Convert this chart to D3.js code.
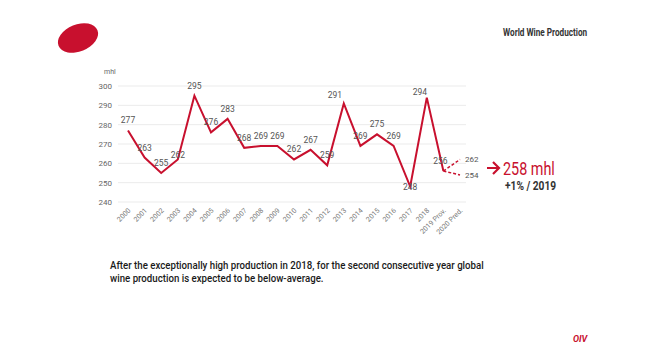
<!DOCTYPE html>
<meta charset="utf-8">
<script src="https://d3js.org/d3.v7.min.js"></script>
<style>
  body { margin: 0; background: #fff; }
  svg text { font-family: "Roboto", "Liberation Sans", sans-serif; }
</style>
<div id="chart"></div>
<script>
// production in mhl, 2000 to 2019 (provisional)
var years = ["2000","2001","2002","2003","2004","2005","2006","2007","2008","2009",
             "2010","2011","2012","2013","2014","2015","2016","2017","2018","2019 Prov."];
var production = [277,263,255,262,295,276,283,268,269,269,
                  262,267,259,291,269,275,269,248,294,256];
// 2020 forecast range
var forecastYear = "2020 Pred.";
var forecastRange = [262, 254];
var forecastMid = 258;
var yTicks = [240, 250, 260, 270, 280, 290, 300];

var W = 650, H = 347;
var red = "#c8102e";

var svg = d3.select("#chart").append("svg")
    .attr("width", W).attr("height", H);

// squeeze text horizontally, the deck uses a condensed face
function narrow(sel, x0, y0, k) {
  return sel.attr("transform", "translate(" + x0 + "," + y0 + ") scale(" + k + ",1)");
}

// logo blob
svg.append("ellipse")
    .attr("cx", 78).attr("cy", 38).attr("rx", 21).attr("ry", 13.5)
    .attr("transform", "rotate(-22,78,38)")
    .attr("fill", red);

narrow(svg.append("text"), 503, 36, 0.78)
    .attr("font-size", 10.5).attr("font-weight", "bold")
    .attr("fill", "#333")
    .text("World Wine Production");

var allYears = years.concat([forecastYear]);

var x = d3.scalePoint()
    .domain(allYears)
    .range([128, 460]);

var y = d3.scaleLinear()
    .domain([240, 300])
    .range([202, 86]);

// grid
svg.append("g")
  .selectAll("line")
  .data(yTicks)
  .join("line")
    .attr("x1", 118).attr("x2", 466)
    .attr("y1", d => y(d)).attr("y2", d => y(d))
    .attr("stroke", "#ebebeb").attr("stroke-width", 1);

// y axis labels
svg.append("g")
  .selectAll("text")
  .data(yTicks)
  .join("text")
    .attr("x", 112).attr("y", d => y(d) + 3)
    .attr("text-anchor", "end")
    .attr("font-size", 8).attr("fill", "#666")
    .text(d => d);

svg.append("text")
    .attr("x", 104).attr("y", 74)
    .attr("font-size", 7).attr("fill", "#666")
    .text("mhl");

// x axis labels, rotated
svg.append("g")
  .selectAll("text")
  .data(allYears)
  .join("text")
    .attr("transform", d => "translate(" + (x(d) + 3) + ",211) rotate(-45)")
    .attr("text-anchor", "end")
    .attr("font-size", 7).attr("fill", "#777")
    .text(d => d);

var pts = years.map((yr, i) => ({year: yr, value: production[i]}));

// dashed forecast branches
forecastRange.forEach(function(v) {
  svg.append("line")
    .attr("x1", x(years[years.length - 1])).attr("y1", y(production[production.length - 1]))
    .attr("x2", x(forecastYear)).attr("y2", y(v))
    .attr("stroke", red).attr("stroke-width", 1.5)
    .attr("stroke-dasharray", "3,2");
  svg.append("text")
    .attr("x", x(forecastYear) + 5).attr("y", y(v) + 3)
    .attr("font-size", 8).attr("fill", "#555")
    .text(v);
});

var line = d3.line()
    .x(d => x(d.year))
    .y(d => y(d.value));

svg.append("path")
    .datum(pts)
    .attr("d", line)
    .attr("fill", "none")
    .attr("stroke", red)
    .attr("stroke-width", 2)
    .attr("stroke-linejoin", "miter");

// value labels; a few get nudged off the peaks
var nudge = {"2013": [-9, 2], "2018": [-7, 4], "2019 Prov.": [-3, 0], "2003": [0, 6], "2017": [0, 10]};
svg.append("g")
  .selectAll("text")
  .data(pts)
  .join("text")
    .attr("x", d => x(d.year) + (nudge[d.year] ? nudge[d.year][0] : 0))
    .attr("y", d => y(d.value) - 7 + (nudge[d.year] ? nudge[d.year][1] : 0))
    .attr("text-anchor", "middle")
    .attr("font-size", 8.5).attr("fill", "#555")
    .text(d => d.value);

// forecast callout: arrow + figure
svg.append("path")
    .attr("d", "M487,168 H499 M493,162 L499,168 L493,174")
    .attr("fill", "none").attr("stroke", red)
    .attr("stroke-width", 2.2);
narrow(svg.append("text"), 503, 175, 0.8)
    .attr("font-size", 18).attr("fill", red)
    .text(forecastMid + " mhl");
narrow(svg.append("text"), 505, 190, 0.85)
    .attr("font-size", 12).attr("font-weight", "bold").attr("fill", "#333")
    .text("+1% / 2019");

// note under the chart
var note = narrow(svg.append("text"), 110, 0, 0.88)
    .attr("font-size", 11).attr("font-weight", 500).attr("fill", "#1a1a1a");
note.append("tspan").attr("x", 0).attr("y", 269.5)
    .text("After the exceptionally high production in 2018, for the second consecutive year global");
note.append("tspan").attr("x", 0).attr("y", 282.5)
    .text("wine production is expected to be below-average.");

svg.append("text")
    .attr("x", 573).attr("y", 342)
    .attr("font-size", 9).attr("font-weight", "bold").attr("font-style", "italic")
    .attr("fill", red)
    .text("OIV");
</script>
